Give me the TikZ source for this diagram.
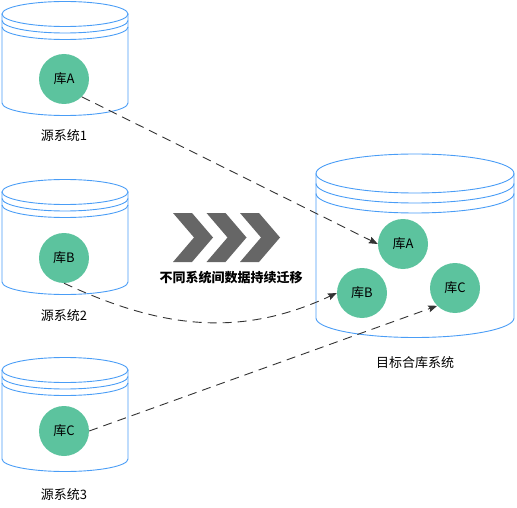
\documentclass[tikz,border=0pt]{standalone}
\usepackage{fontspec}
\setmainfont{Noto Sans CJK SC}
\usetikzlibrary{positioning,arrows.meta,calc}
\definecolor{dbBlue}{HTML}{4A9DF6}
\definecolor{dbGreen}{HTML}{5CC39E}
\definecolor{chevGray}{HTML}{666666}
\definecolor{lineGray}{HTML}{333333}
\tikzstyle{nodeDb}   =[circle,fill=dbGreen,minimum size=50pt,inner sep=0pt,font=\fontsize{13}{15}\selectfont]
\tikzstyle{labelSys} =[font=\fontsize{13}{15}\selectfont]
\tikzstyle{moveLine} =[draw=lineGray,line width=0.9pt,dash pattern=on 9pt off 6pt,-{Stealth[length=9pt,width=7pt,inset=1.5pt]}]
% cx, top y, bottom y, x radius, y radius, ring gap
\newcommand{\dbcylinder}[6]{
  \draw[dbBlue,line width=0.9pt] (#1-#4,#2) -- (#1-#4,#3)
    arc[start angle=180,end angle=360,x radius=#4pt,y radius=#5pt] -- (#1+#4,#2);
  \draw[dbBlue,line width=0.9pt] (#1,#2) ellipse[x radius=#4pt,y radius=#5pt];
  \foreach \k in {1,2}
    \draw[dbBlue,line width=0.9pt] (#1-#4,#2+\k*#6)
      arc[start angle=180,end angle=360,x radius=#4pt,y radius=#5pt];
}

\begin{document}
\begin{tikzpicture}[x=1pt,y=-1pt]
      \useasboundingbox (0,0) rectangle (517,508);
      \dbcylinder{65}{14}{103}{63}{12.5}{6.5}
      \dbcylinder{65}{192}{282}{63}{12.5}{6.5}
      \dbcylinder{65}{370}{459}{63}{12.5}{6.5}
      \dbcylinder{415}{173.5}{318}{99}{19.5}{10}
      % chevrons
      \foreach \i in {0,1,2}
        \fill[chevGray] (173+\i*33.5,213) -- ++(19,0) -- ++(21,24.5) -- ++(-21,24.5)
          -- ++(-19,0) -- ++(21,-24.5) -- cycle;
      \node[labelSys,font=\fontsize{13}{15}\selectfont\bfseries] (moveText) at (231,278) {不同系统间数据持续迁移};
      \node[nodeDb] (srcA) at (64,79) {库A};
      \node[nodeDb] (srcB) at (64,258) {库B};
      \node[nodeDb] (srcC) at (64,431) {库C};
      \node[labelSys] (sys1) at (64,136) {源系统1};
      \node[labelSys] (sys2) at (64,316) {源系统2};
      \node[labelSys] (sys3) at (64,495) {源系统3};
      \node[nodeDb] (tgtA) at (403,244) {库A};
      \node[nodeDb] (tgtB) at (362,293) {库B};
      \node[nodeDb] (tgtC) at (455,288) {库C};
      \node[labelSys] (tgtSys) at (415,363) {目标合库系统};
      \draw[moveLine] (srcA.south east) -- (tgtA.west);
      \draw[moveLine] (srcB.south) to[out=-25,in=205] (tgtB.west);
      \draw[moveLine] (srcC.east) -- (tgtC.south west);
\end{tikzpicture}
\end{document}
